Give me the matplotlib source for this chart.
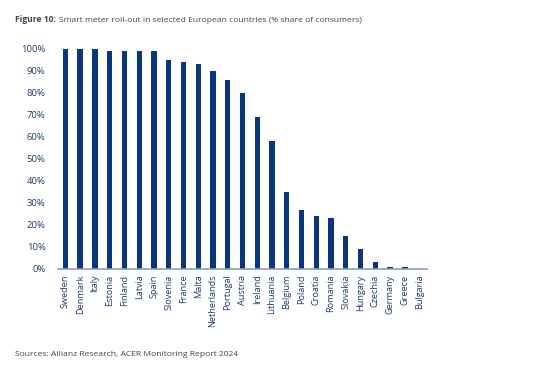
import matplotlib
matplotlib.use("Agg")
import matplotlib.pyplot as plt
from matplotlib.ticker import FuncFormatter

countries = ["Sweden", "Denmark", "Italy", "Estonia", "Finland", "Latvia", "Spain",
             "Slovenia", "France", "Malta", "Netherlands", "Portugal", "Austria",
             "Ireland", "Lithuania", "Belgium", "Poland", "Croatia", "Romania",
             "Slovakia", "Hungary", "Czechia", "Germany", "Greece", "Bulgaria"]
values = [100, 100, 100, 99, 99, 99, 99, 95, 94, 93, 90, 86, 80, 69, 58,
          35, 27, 24, 23, 15, 9, 3, 1, 1, 0]
yticks = [0, 10, 20, 30, 40, 50, 60, 70, 80, 90, 100]

plt.rcParams['font.family'] = ['Open Sans', 'DejaVu Sans']
navy = "#1f3a6e"
bar_color = "#0a3580"

fig = plt.figure(figsize=(5.6, 3.81), dpi=100)
ax = fig.add_axes([58/560, 1-269/381, (427-58)/560, (269-49)/381])
x = list(range(len(countries)))
ax.bar(x, values, width=0.36, color=bar_color)
ax.set_xlim(-0.5, len(countries)-0.5)
ax.set_ylim(0, 100)
ax.set_yticks(yticks)
ax.yaxis.set_major_formatter(FuncFormatter(lambda v, p: f"{int(v)}%"))
ax.set_xticks(x)
ax.set_xticklabels(countries, rotation=90, fontsize=6.6, color=navy)
ax.tick_params(axis='y', labelsize=6.8, labelcolor=navy, length=0, pad=9)
ax.tick_params(axis='x', length=0, pad=4)
for s in ['top', 'right', 'left']:
    ax.spines[s].set_visible(False)
ax.spines['bottom'].set_color("#8a9cc0")
ax.spines['bottom'].set_linewidth(1.2)

fs = 6.1
t1 = fig.text(15/560, 1-20/381, "Figure 10:", fontsize=fs, fontweight='bold', color="#444444", va='center')
fig.canvas.draw()
bb = t1.get_window_extent(renderer=fig.canvas.get_renderer())
fig.text(bb.x1/560 + 3/560, 1-20/381,
         "Smart meter roll-out in selected European countries (% share of consumers)",
         fontsize=fs, color="#444444", va='center')
fig.text(15/560, 1-355/381, "Sources: Allianz Research, ACER Monitoring Report 2024",
         fontsize=fs, color="#444444", va='center')

fig.savefig("out.png", dpi=100)
